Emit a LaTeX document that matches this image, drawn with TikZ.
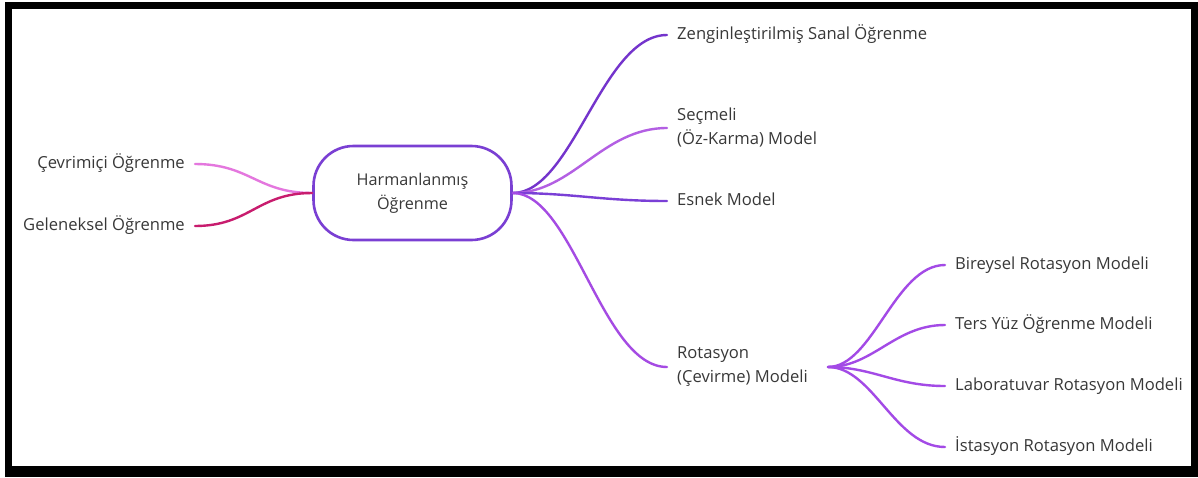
\documentclass[tikz,border=0pt]{standalone}
\usepackage{fontspec}
\setmainfont{Open Sans}
\definecolor{txt}{HTML}{383838}
\definecolor{boxc}{HTML}{7A3FD3}
\definecolor{zenc}{HTML}{7434CC}
\definecolor{secc}{HTML}{B35FE3}
\definecolor{esnc}{HTML}{7A3FD6}
\definecolor{rotc}{HTML}{A54BE3}
\definecolor{subc}{HTML}{A34AE6}
\definecolor{cevc}{HTML}{E477DE}
\definecolor{gelc}{HTML}{C81C6E}
\begin{document}
\begin{tikzpicture}[x=1pt,y=-1pt,
  lbl/.style={font=\fontsize{16.6}{23}\selectfont, text=txt, inner ysep=0pt, inner xsep=10pt, text height=12pt, text depth=4pt},
  mlbl/.style={font=\fontsize{16.6}{24}\selectfont, text=txt, inner ysep=0pt, inner xsep=10pt, align=left},
  conn/.style={line width=2.4pt, line cap=round}]
\useasboundingbox (0,0) rectangle (1198,477);
\fill[white] (0,0) rectangle (1198,477);
\fill[black] (5,2) rectangle (1198,477);
\fill[white] (12,9) rectangle (1191,466);

\node[draw=boxc, line width=2.6pt, rounded corners=40pt, minimum width=198pt, minimum height=94pt, align=center, font=\fontsize{16.2}{24}\selectfont, text=txt] (hub) at (412.5,193) {Harmanlanmış\\Öğrenme};

\node[lbl, anchor=east] (cev) at (195,164) {Çevrimiçi Öğrenme};
\node[lbl, anchor=east] (gel) at (195,226) {Geleneksel Öğrenme};

\node[lbl, anchor=west] (zen) at (667,35) {Zenginleştirilmiş Sanal Öğrenme};
\node[mlbl, anchor=west] (sec) at (667,128) {Seçmeli\\(Öz-Karma) Model};
\node[lbl, anchor=west] (esn) at (667,201) {Esnek Model};
\node[mlbl, anchor=west] (rot) at (667,367) {Rotasyon\\(Çevirme) Modeli};
\coordinate (rj) at (828,367);

\node[lbl, anchor=west] (bir) at (945,265) {Bireysel Rotasyon Modeli};
\node[lbl, anchor=west] (ter) at (945,325) {Ters Yüz Öğrenme Modeli};
\node[lbl, anchor=west] (lab) at (945,386) {Laboratuvar Rotasyon Modeli};
\node[lbl, anchor=west] (ist) at (945,447) {İstasyon Rotasyon Modeli};

\draw[conn, cevc] (cev.east) .. controls +(55,0) and +(-55,0) .. (hub.west);
\draw[conn, gelc] (gel.east) .. controls +(55,0) and +(-55,0) .. (hub.west);

\draw[conn, zenc] (hub.east) .. controls +(60,0) and +(-65,0) .. (zen.west);
\draw[conn, secc] (hub.east) .. controls +(60,0) and +(-65,0) .. (sec.west);
\draw[conn, esnc] (hub.east) .. controls +(60,0) and +(-65,0) .. (esn.west);
\draw[conn, rotc] (hub.east) .. controls +(60,0) and +(-65,0) .. (rot.west);

\draw[conn, subc] (rj) .. controls +(45,0) and +(-50,0) .. (bir.west);
\draw[conn, subc] (rj) .. controls +(45,0) and +(-50,0) .. (ter.west);
\draw[conn, subc] (rj) .. controls +(45,0) and +(-50,0) .. (lab.west);
\draw[conn, subc] (rj) .. controls +(45,0) and +(-50,0) .. (ist.west);
\end{tikzpicture}
\end{document}
